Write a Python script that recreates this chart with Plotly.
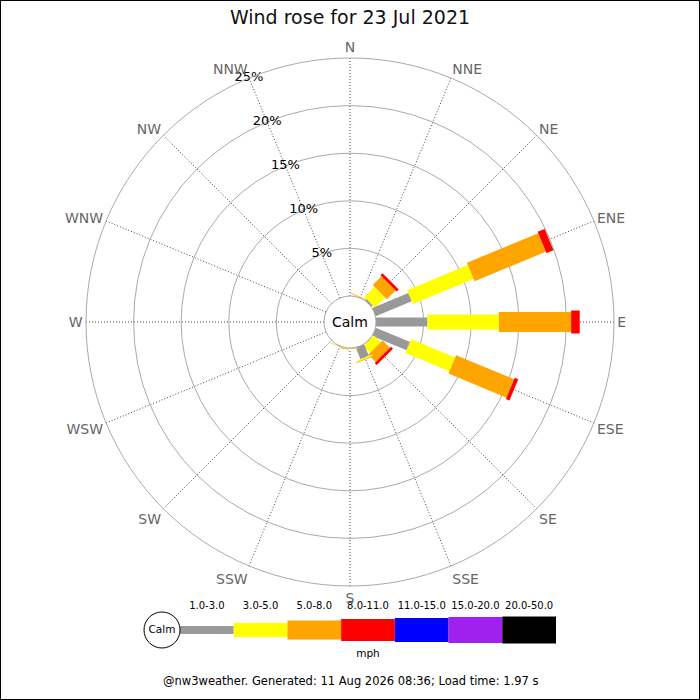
import plotly.graph_objects as go

# wind rose data, percent of time per direction and speed bin
directions = ["N", "NNE", "NE", "ENE", "E", "ESE", "SE", "SSE",
              "S", "SSW", "SW", "WSW", "W", "WNW", "NW", "NNW"]
speed_bins = ["1.0-3.0", "3.0-5.0", "5.0-8.0", "8.0-11.0", "11.0-15.0", "15.0-20.0", "20.0-50.0"]
bin_colors = ["#999999", "#ffff00", "#ffa500", "#ff0000", "#0000ff", "#a020f0", "#000000"]
bin_thickness = [9, 15, 20, 23, 25, 27, 28]

# columns follow speed_bins
freq = {
    "N":   [0.0, 0.0, 0.0, 0.0, 0.0, 0.0, 0.0],
    "NNE": [0.0, 0.05, 0.08, 0.0, 0.0, 0.0, 0.0],
    "NE":  [0.2, 1.5, 1.3, 0.3, 0.0, 0.0, 0.0],
    "ENE": [4.1, 6.9, 8.1, 0.8, 0.0, 0.0, 0.0],
    "E":   [5.4, 7.5, 7.6, 0.9, 0.0, 0.0, 0.0],
    "ESE": [3.9, 5.0, 6.6, 0.4, 0.0, 0.0, 0.0],
    "SE":  [0.05, 1.0, 1.1, 0.3, 0.0, 0.0, 0.0],
    "SSE": [1.3, 0.15, 0.08, 0.0, 0.0, 0.0, 0.0],
    "S":   [0.0, 0.05, 0.05, 0.0, 0.0, 0.0, 0.0],
    "SSW": [0.0, 0.05, 0.05, 0.0, 0.0, 0.0, 0.0],
}
radial_ticks = [5, 10, 15, 20, 25]
title_text = "Wind rose for 23 Jul 2021"
footer_text = "@nw3weather. Generated: 11 Aug 2026 08:36; Load time: 1.97 s"

FONT = "DejaVu Sans"
W, H = 700, 700
cx, cy, R = 350, 322, 264

fig = go.Figure()

angles = [i * 22.5 for i in range(len(directions))]

# stacked segments drawn as thick lines (constant pixel width like the original)
for d, vals in freq.items():
    th = angles[directions.index(d)]
    base = 0.0
    for k, v in enumerate(vals):
        if v <= 0:
            continue
        fig.add_trace(go.Scatterpolar(
            r=[base, base + v], theta=[th, th], mode="lines",
            line=dict(color=bin_colors[k], width=bin_thickness[k]),
            showlegend=False, hoverinfo="skip",
        ))
        base += v

# radial labels along NNW
fig.add_trace(go.Scatterpolar(
    r=radial_ticks, theta=[337.5] * len(radial_ticks), mode="text",
    text=[f"{t}%" for t in radial_ticks],
    textfont=dict(family=FONT, size=13, color="black"),
    showlegend=False, hoverinfo="skip",
))

fig.update_layout(
    polar=dict(
        domain=dict(x=[(cx - R) / W, (cx + R) / W], y=[1 - (cy + R) / H, 1 - (cy - R) / H]),
        hole=26 / R,
        bgcolor="white",
        radialaxis=dict(
            range=[0, 25], tickvals=[0] + radial_ticks, showticklabels=False,
            ticks="", showline=False, gridcolor="#aaaaaa", gridwidth=1,
        ),
        angularaxis=dict(
            direction="clockwise", rotation=90,
            tickvals=angles, ticktext=directions, ticks="",
            tickfont=dict(family=FONT, size=14, color="#666666"),
            showline=True, linecolor="#aaaaaa", linewidth=1,
            gridcolor="#444444", gridwidth=1, griddash="1px,2px",
        ),
    ),
)

# speed legend on a small cartesian strip below the rose
seg_px = (556 - 180) / len(speed_bins)
x0_px, x1_px = 140, 560
fig.update_layout(
    xaxis=dict(domain=[x0_px / W, x1_px / W],
               range=[(x0_px - 180) / seg_px, (x1_px - 180) / seg_px],
               visible=False, fixedrange=True),
    yaxis=dict(domain=[1 - 660 / H, 1 - 600 / H], range=[-30, 30],
               visible=False, fixedrange=True),
)
for k, name in enumerate(speed_bins):
    fig.add_trace(go.Bar(
        x=[1], y=[0], base=[k], width=[bin_thickness[k] - 1], orientation="h",
        marker=dict(color=bin_colors[k], line=dict(width=0)),
        showlegend=False, hoverinfo="skip",
    ))
fig.add_trace(go.Scatter(
    x=[k + 0.5 for k in range(len(speed_bins))], y=[24] * len(speed_bins),
    mode="text", text=speed_bins,
    textfont=dict(family=FONT, size=10, color="black"),
    showlegend=False, hoverinfo="skip",
))
fig.add_trace(go.Scatter(
    x=[len(speed_bins) / 2], y=[-24], mode="text", text=["mph"],
    textfont=dict(family=FONT, size=10.5, color="black"),
    showlegend=False, hoverinfo="skip",
))
fig.add_trace(go.Scatter(
    x=[-18 / seg_px], y=[0], mode="markers+text", text=["Calm"],
    textposition="middle center",
    marker=dict(size=36, color="white", line=dict(color="black", width=1)),
    textfont=dict(family=FONT, size=10.5, color="black"),
    showlegend=False, hoverinfo="skip",
))

fig.update_layout(
    width=W, height=H,
    margin=dict(l=0, r=0, t=0, b=0),
    paper_bgcolor="white",
    plot_bgcolor="white",
    font=dict(family=FONT),
    barmode="overlay",
    showlegend=False,
    title=dict(text=title_text, x=0.5, xanchor="center", y=1 - 17 / H, yanchor="middle",
               font=dict(family=FONT, size=19, color="#111111")),
    annotations=[
        dict(text="Calm", x=cx / W, y=1 - cy / H, xref="paper", yref="paper",
             showarrow=False, font=dict(family=FONT, size=14, color="black")),
        dict(text=footer_text, x=0.5, y=1 - 690 / H, xref="paper", yref="paper",
             showarrow=False, font=dict(family=FONT, size=11.5, color="black")),
    ],
    shapes=[dict(type="rect", xref="paper", yref="paper", x0=0, y0=0, x1=1, y1=1,
                 line=dict(color="black", width=2))],
)

# drop the default page margin so the figure sits at the window origin
fig.write_html("out.html", config={"displayModeBar": False},
               post_script="document.body.style.margin='0';")
